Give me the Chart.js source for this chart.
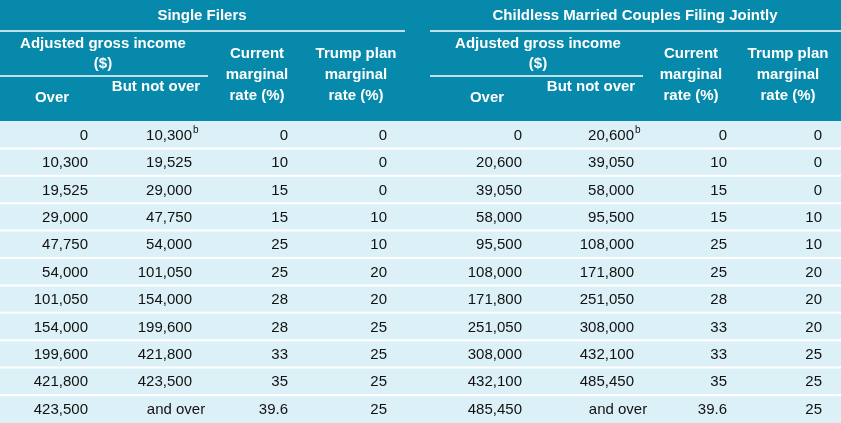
<!DOCTYPE html>
<html><head><meta charset="utf-8">
<script src="https://cdn.jsdelivr.net/npm/chart.js@4"></script>
<style>html,body{margin:0;padding:0;background:#fff}</style>
</head><body>
<canvas id="c" width="841" height="423"></canvas>
<script>
const groups = ["Single Filers", "Childless Married Couples Filing Jointly"];
const singleOver = ["0","10,300","19,525","29,000","47,750","54,000","101,050","154,000","199,600","421,800","423,500"];
const singleNotOver = ["10,300","19,525","29,000","47,750","54,000","101,050","154,000","199,600","421,800","423,500","and over"];
const singleCurrent = ["0","10","15","15","25","25","28","28","33","35","39.6"];
const singleTrump = ["0","0","0","10","10","20","20","25","25","25","25"];
const jointOver = ["0","20,600","39,050","58,000","95,500","108,000","171,800","251,050","308,000","432,100","485,450"];
const jointNotOver = ["20,600","39,050","58,000","95,500","108,000","171,800","251,050","308,000","432,100","485,450","and over"];
const jointCurrent = ["0","10","15","15","25","25","28","33","33","35","39.6"];
const jointTrump = ["0","0","0","10","10","20","20","20","25","25","25"];
const footnoteRow = 0; // superscript "b" on first "But not over" cell

const TEAL = "#0689ab", BODY = "#dcf0f7";
const FONT = "'Liberation Sans', Arial, sans-serif";

const tablePlugin = {
  id: "table",
  afterDraw(chart) {
    const ctx = chart.ctx, xs = chart.scales.x, ys = chart.scales.y;
    const X = v => xs.getPixelForValue(v), Y = v => ys.getPixelForValue(v);
    const headBottom = 121, rowH = 27.4;
    ctx.save();
    ctx.fillStyle = TEAL;
    ctx.fillRect(X(0), Y(0), X(841) - X(0), Y(headBottom) - Y(0));
    ctx.fillStyle = BODY;
    ctx.fillRect(X(0), Y(headBottom), X(841) - X(0), Y(423) - Y(headBottom));
    ctx.strokeStyle = "#ffffff"; ctx.lineWidth = 2;
    for (let i = 1; i < 11; i++) {
      const y = Y(headBottom + i * rowH);
      ctx.beginPath(); ctx.moveTo(X(0), y); ctx.lineTo(X(841), y); ctx.stroke();
    }
    // header rules
    ctx.lineWidth = 1.5;
    [[0, 405, 31], [430, 841, 31], [0, 208, 76], [430, 643, 76]].forEach(([a, b, y]) => {
      ctx.beginPath(); ctx.moveTo(X(a), Y(y)); ctx.lineTo(X(b), Y(y)); ctx.stroke();
    });
    ctx.fillStyle = "#fff"; ctx.textBaseline = "middle"; ctx.textAlign = "center";
    ctx.font = "bold 15px " + FONT;
    const heads = (off, agiC, overC, notC, curC, trC) => {
      ctx.fillText("Adjusted gross income", X(agiC), Y(44));
      ctx.fillText("($)", X(agiC), Y(64));
      ctx.fillText("Over", X(overC), Y(98));
      ctx.fillText("But not over", X(notC), Y(87));
      ctx.fillText("Current", X(curC), Y(54));
      ctx.fillText("marginal", X(curC), Y(75));
      ctx.fillText("rate (%)", X(curC), Y(96));
      ctx.fillText("Trump plan", X(trC), Y(54));
      ctx.fillText("marginal", X(trC), Y(75));
      ctx.fillText("rate (%)", X(trC), Y(96));
    };
    ctx.fillText(groups[0], X(202), Y(16));
    ctx.fillText(groups[1], X(635), Y(16));
    heads(0, 103, 52, 156, 257, 356);
    heads(0, 538, 487, 591, 691, 788);
    ctx.font = "15px " + FONT; ctx.fillStyle = "#111";
    const cols = [
      [singleOver, 88], [singleNotOver, 192], [singleCurrent, 288], [singleTrump, 387],
      [jointOver, 522], [jointNotOver, 634], [jointCurrent, 727], [jointTrump, 822]
    ];
    cols.forEach(([arr, right]) => {
      arr.forEach((t, i) => {
        const y = Y(headBottom + (i + 0.5) * rowH + 1);
        if (t === "and over") { ctx.textAlign = "center"; ctx.fillText(t, X(right - 16), y); }
        else { ctx.textAlign = "right"; ctx.fillText(t, X(right), y); }
        if (i === footnoteRow && (arr === singleNotOver || arr === jointNotOver)) {
          ctx.font = "10px " + FONT; ctx.textAlign = "left";
          ctx.fillText("b", X(right + 1), y - 5);
          ctx.font = "15px " + FONT;
        }
      });
    });
    ctx.restore();
  }
};

new Chart(document.getElementById("c"), {
  type: "scatter",
  data: { datasets: [{ data: [] }] },
  options: {
    responsive: false, animation: false,
    layout: { padding: 0 },
    plugins: { legend: { display: false }, tooltip: { enabled: false } },
    scales: {
      x: { type: "linear", min: 0, max: 841, display: false },
      y: { type: "linear", min: 0, max: 423, reverse: true, display: false }
    }
  },
  plugins: [tablePlugin]
});
</script>
</body></html>
